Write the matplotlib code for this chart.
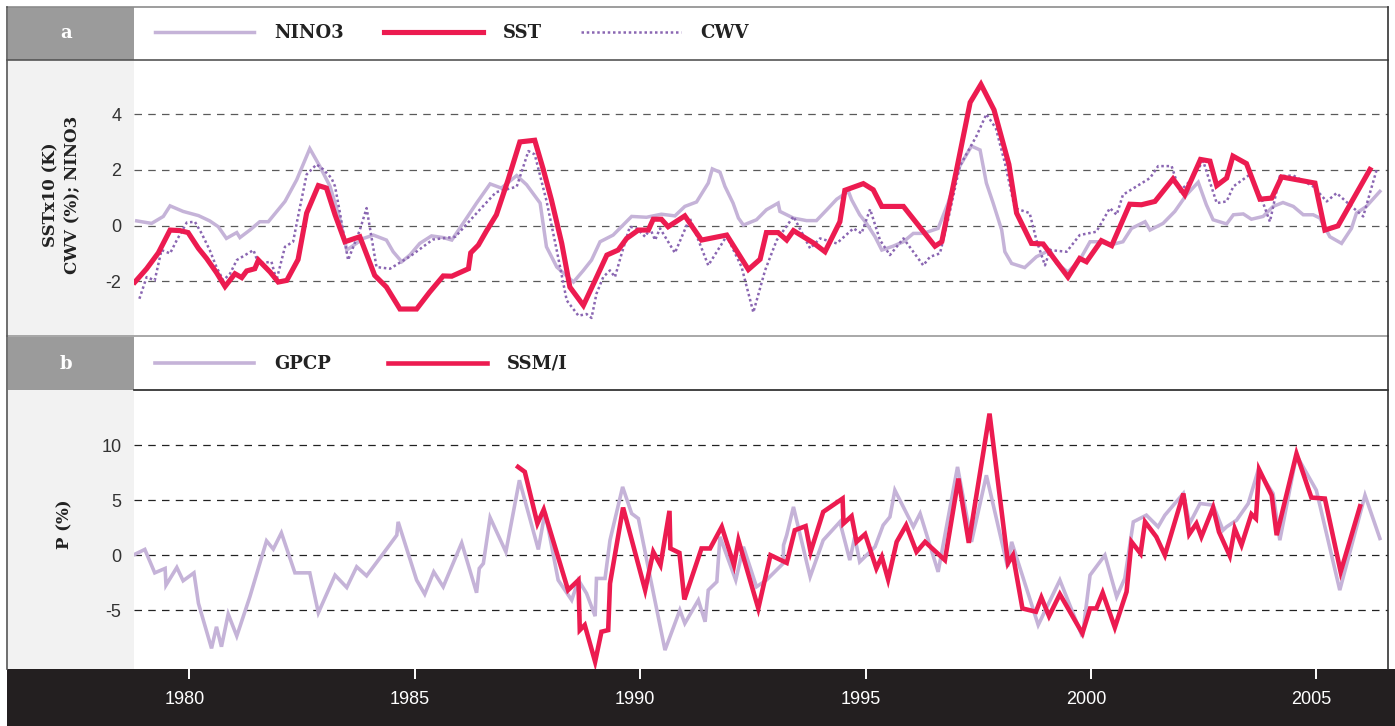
import numpy as np
import matplotlib
matplotlib.use('Agg')
import matplotlib.pyplot as plt
import matplotlib.transforms as mtransforms
from matplotlib.patches import Rectangle
from matplotlib.lines import Line2D

# panel a: NINO3 index, SST anomaly (x10, K) and column water vapour (%)
nino3_t = [1978.83, 1979.16, 1979.42, 1979.57, 1979.86, 1980.20, 1980.45, 1980.64, 1980.82, 1981.05,
           1981.12, 1981.34, 1981.56, 1981.75, 1982.12, 1982.38, 1982.67, 1982.89, 1983.12, 1983.34,
           1983.49, 1983.86, 1984.08, 1984.37, 1984.52, 1984.71, 1984.89, 1985.11, 1985.37, 1985.63,
           1985.82, 1986.07, 1986.37, 1986.67, 1986.92, 1987.26, 1987.48, 1987.78, 1987.92, 1988.15,
           1988.52, 1988.74, 1988.92, 1989.11, 1989.40, 1989.62, 1989.81, 1990.14, 1990.47, 1990.77,
           1990.99, 1991.25, 1991.51, 1991.60, 1991.77, 1991.88, 1992.06, 1992.18, 1992.29, 1992.58,
           1992.80, 1993.06, 1993.10, 1993.40, 1993.69, 1993.91, 1994.14, 1994.36, 1994.62, 1994.69,
           1994.87, 1995.02, 1995.21, 1995.36, 1995.61, 1995.84, 1996.06, 1996.28, 1996.61, 1996.83,
           1997.09, 1997.35, 1997.54, 1997.68, 1997.83, 1998.02, 1998.09, 1998.24, 1998.53, 1998.79,
           1999.09, 1999.24, 1999.49, 1999.75, 1999.98, 2000.20, 2000.42, 2000.71, 2000.90, 2001.20,
           2001.31, 2001.60, 2001.86, 2002.12, 2002.38, 2002.56, 2002.71, 2003.01, 2003.16, 2003.38,
           2003.56, 2003.82, 2004.04, 2004.26, 2004.49, 2004.71, 2004.93, 2005.08, 2005.30, 2005.56,
           2005.78, 2005.89, 2006.11, 2006.41]
nino3 = [0.17, 0.08, 0.33, 0.71, 0.51, 0.36, 0.17, -0.04, -0.46, -0.25,
         -0.43, -0.16, 0.14, 0.14, 0.87, 1.65, 2.77, 2.14, 1.41, 0.21,
         -0.88, -0.46, -0.34, -0.52, -0.94, -1.30, -1.06, -0.64, -0.37, -0.43,
         -0.52, 0.08, 0.81, 1.50, 1.35, 1.80, 1.47, 0.81, -0.76, -1.49,
         -2.03, -1.61, -1.24, -0.58, -0.34, 0.02, 0.33, 0.30, 0.41, 0.35,
         0.69, 0.85, 1.53, 2.04, 1.92, 1.41, 0.81, 0.27, 0.02, 0.21,
         0.57, 0.81, 0.51, 0.27, 0.18, 0.18, 0.57, 0.95, 1.23, 0.93,
         0.39, 0.08, -0.40, -0.88, -0.74, -0.58, -0.28, -0.28, -0.10, 0.81,
         2.14, 2.86, 2.72, 1.53, 0.81, -0.16, -0.94, -1.36, -1.51, -1.12,
         -0.88, -1.36, -1.67, -1.24, -0.58, -0.58, -0.70, -0.58, -0.10, 0.14,
         -0.16, 0.08, 0.51, 1.11, 1.56, 0.75, 0.21, 0.06, 0.39, 0.42,
         0.23, 0.33, 0.69, 0.83, 0.69, 0.39, 0.39, 0.27, -0.40, -0.64,
         -0.10, 0.45, 0.69, 1.23]

sst_t = [1978.79, 1979.05, 1979.31, 1979.57, 1979.79, 1979.97, 1980.20, 1980.38, 1980.60, 1980.79,
         1981.01, 1981.16, 1981.27, 1981.45, 1981.53, 1981.79, 1981.97, 1982.16, 1982.41, 1982.60,
         1982.86, 1983.04, 1983.23, 1983.45, 1983.78, 1984.11, 1984.37, 1984.67, 1985.04, 1985.33,
         1985.63, 1985.82, 1986.19, 1986.24, 1986.41, 1986.59, 1986.81, 1987.07, 1987.33, 1987.66,
         1987.85, 1988.03, 1988.26, 1988.44, 1988.74, 1989.00, 1989.26, 1989.51, 1989.70, 1989.96,
         1990.18, 1990.29, 1990.47, 1990.62, 1990.99, 1991.36, 1991.92, 1992.40, 1992.66, 1992.80,
         1993.06, 1993.25, 1993.40, 1993.84, 1994.10, 1994.43, 1994.54, 1994.95, 1995.17, 1995.36,
         1995.84, 1996.54, 1996.69, 1997.02, 1997.32, 1997.56, 1997.85, 1998.18, 1998.35, 1998.68,
         1998.94, 1999.49, 1999.75, 1999.90, 2000.23, 2000.46, 2000.86, 2001.12, 2001.42, 2001.82,
         2002.08, 2002.43, 2002.64, 2002.79, 2003.01, 2003.15, 2003.45, 2003.75, 2004.01, 2004.23,
         2004.97, 2005.19, 2005.48, 2006.19]
sst = [-2.03, -1.55, -0.98, -0.16, -0.18, -0.25, -0.82, -1.18, -1.69, -2.19,
       -1.73, -1.87, -1.63, -1.55, -1.24, -1.67, -2.03, -1.97, -1.22, 0.45,
       1.44, 1.35, 0.39, -0.58, -0.40, -1.79, -2.21, -3.00, -3.00, -2.39,
       -1.81, -1.82, -1.55, -0.98, -0.70, -0.19, 0.39, 1.65, 3.01, 3.07,
       2.02, 0.93, -0.64, -2.21, -2.87, -1.97, -1.06, -0.88, -0.46, -0.16,
       -0.16, 0.23, 0.23, -0.04, 0.35, -0.52, -0.34, -1.58, -1.21, -0.25,
       -0.25, -0.52, -0.18, -0.62, -0.94, 0.14, 1.27, 1.51, 1.29, 0.69,
       0.69, -0.74, -0.58, 2.02, 4.43, 5.08, 4.16, 2.20, 0.45, -0.64,
       -0.66, -1.85, -1.18, -1.30, -0.54, -0.72, 0.77, 0.75, 0.87, 1.68,
       1.11, 2.38, 2.32, 1.44, 1.71, 2.50, 2.23, 0.95, 0.99, 1.75,
       1.53, -0.16, -0.01, 2.02]

cwv_t = [1978.89, 1979.05, 1979.23, 1979.38, 1979.57, 1979.72, 1979.94, 1980.12, 1980.27, 1980.45,
         1980.60, 1980.75, 1980.90, 1981.05, 1981.42, 1981.53, 1981.82, 1981.93, 1982.12, 1982.30,
         1982.41, 1982.60, 1982.82, 1982.97, 1983.15, 1983.23, 1983.34, 1983.52, 1983.78, 1983.93,
         1984.15, 1984.45, 1984.90, 1985.40, 1985.90, 1986.40, 1986.80, 1987.26, 1987.52, 1987.66,
         1987.92, 1988.15, 1988.37, 1988.63, 1988.81, 1988.92, 1989.03, 1989.18, 1989.33, 1989.44,
         1989.59, 1989.77, 1989.92, 1990.11, 1990.22, 1990.33, 1990.44, 1990.77, 1991.10, 1991.51,
         1991.92, 1992.25, 1992.51, 1992.77, 1993.03, 1993.40, 1993.77, 1993.99, 1994.36, 1994.73,
         1994.91, 1995.10, 1995.32, 1995.54, 1995.84, 1996.28, 1996.43, 1996.65, 1996.83, 1997.09,
         1997.46, 1997.68, 1997.89, 1998.09, 1998.31, 1998.64, 1998.79, 1998.98, 1999.09, 1999.46,
         1999.75, 2000.12, 2000.42, 2000.57, 2000.71, 2001.31, 2001.49, 2001.79, 2001.97, 2002.19,
         2002.49, 2002.79, 2003.01, 2003.16, 2003.53, 2003.78, 2003.97, 2004.19, 2004.49, 2004.93,
         2005.23, 2005.45, 2005.74, 2006.04, 2006.34]
cwv = [-2.63, -1.85, -1.97, -0.88, -1.00, -0.52, 0.11, 0.14, -0.28, -0.88,
       -1.49, -1.97, -1.73, -1.24, -0.88, -1.36, -1.30, -1.97, -0.76, -0.58,
       0.33, 1.84, 2.20, 2.02, 1.71, 1.41, 0.45, -1.24, -0.16, 0.63,
       -1.49, -1.55, -1.10, -0.50, -0.40, 0.50, 1.20, 1.40, 2.68, 2.56,
       0.90, -0.90, -2.69, -3.24, -3.18, -3.32, -2.45, -1.85, -1.61, -1.85,
       -1.00, -0.04, -0.10, -0.40, -0.10, -0.52, -0.10, -0.98, 0.27, -1.43,
       -0.37, -1.49, -3.12, -1.61, -0.52, 0.33, -0.82, -0.46, -0.64, -0.10,
       -0.28, 0.59, -0.52, -1.06, -0.46, -1.43, -1.12, -1.00, 0.21, 2.14,
       3.22, 4.01, 3.50, 2.26, 0.63, 0.45, -0.52, -1.43, -0.88, -0.94,
       -0.34, -0.22, 0.63, 0.39, 1.11, 1.71, 2.14, 2.14, 1.23, 1.59,
       2.32, 0.81, 0.87, 1.41, 1.84, 0.99, 0.14, 1.78, 1.80, 1.41,
       0.87, 1.17, 0.75, 0.33, 2.02]

# panel b: precipitation anomaly (%)
gpcp_t = [1978.75, 1979.01, 1979.23, 1979.46, 1979.48, 1979.72, 1979.86, 1980.10, 1980.20, 1980.49,
          1980.60, 1980.71, 1980.86, 1981.05, 1981.34, 1981.71, 1981.86, 1982.04, 1982.34, 1982.67,
          1982.86, 1983.23, 1983.49, 1983.71, 1983.93, 1984.30, 1984.60, 1984.63, 1985.04, 1985.22,
          1985.42, 1985.63, 1986.04, 1986.37, 1986.43, 1986.52, 1986.67, 1987.02, 1987.32, 1987.74,
          1987.89, 1988.18, 1988.48, 1988.63, 1988.81, 1989.00, 1989.03, 1989.22, 1989.33, 1989.61,
          1989.81, 1989.96, 1990.22, 1990.55, 1990.88, 1990.99, 1991.29, 1991.44, 1991.51, 1991.70,
          1991.77, 1992.12, 1992.29, 1992.58, 1992.80, 1993.17, 1993.18, 1993.25, 1993.40, 1993.77,
          1994.06, 1994.43, 1994.65, 1994.76, 1994.87, 1995.21, 1995.39, 1995.54, 1995.65, 1996.06,
          1996.21, 1996.61, 1997.04, 1997.35, 1997.68, 1998.15, 1998.24, 1998.83, 1999.31, 1999.81,
          1999.98, 2000.31, 2000.57, 2000.75, 2000.94, 2001.23, 2001.49, 2001.64, 2002.05, 2002.19,
          2002.42, 2002.71, 2002.93, 2003.01, 2003.23, 2003.49, 2003.71, 2004.04, 2004.19, 2004.56,
          2005.00, 2005.52, 2006.08, 2006.41]
gpcp = [0.00, 0.52, -1.61, -1.21, -2.73, -1.12, -2.33, -1.61, -4.39, -8.48,
        -6.52, -8.33, -5.36, -7.36, -3.79, 1.30, 0.55, 2.03, -1.61, -1.61,
        -5.24, -1.82, -2.94, -1.06, -1.88, 0.15, 1.82, 3.03, -2.27, -3.55,
        -1.52, -2.88, 1.12, -3.42, -1.21, -0.76, 3.42, 0.30, 6.82, 0.52,
        3.94, -2.27, -4.09, -2.27, -3.48, -5.55, -2.12, -2.12, 1.36, 6.21,
        3.79, 3.33, -1.97, -8.64, -5.00, -6.21, -4.09, -6.06, -3.18, -2.42,
        1.67, -2.27, 0.76, -2.88, -2.27, -0.76, 0.91, 1.82, 4.39, -1.97,
        1.36, 3.03, -0.45, 1.67, -0.61, 0.76, 2.73, 3.48, 5.91, 2.58,
        3.79, -1.52, 8.03, 1.21, 7.27, -1.06, 1.21, -6.36, -2.27, -7.42,
        -1.82, 0.00, -3.79, -2.12, 3.03, 3.64, 2.58, 3.64, 5.61, 2.88,
        4.70, 4.55, 2.27, 2.58, 3.18, 4.70, 7.73, 5.61, 1.36, 9.09,
        5.91, -3.18, 5.45, 1.52]

ssmi_t = [1987.29, 1987.44, 1987.72, 1987.86, 1988.40, 1988.63, 1988.66, 1988.77, 1989.00, 1989.14,
          1989.29, 1989.33, 1989.62, 1990.11, 1990.29, 1990.45, 1990.65, 1990.67, 1990.87, 1990.98,
          1991.36, 1991.55, 1991.81, 1992.08, 1992.18, 1992.62, 1992.89, 1993.25, 1993.43, 1993.67,
          1993.78, 1994.06, 1994.49, 1994.51, 1994.69, 1994.80, 1994.99, 1995.24, 1995.36, 1995.50,
          1995.69, 1995.90, 1996.13, 1996.32, 1996.76, 1997.06, 1997.29, 1997.75, 1998.16, 1998.27,
          1998.48, 1998.78, 1998.90, 1999.07, 1999.31, 1999.81, 1999.98, 2000.12, 2000.26, 2000.53,
          2000.79, 2000.90, 2001.10, 2001.20, 2001.45, 2001.64, 2002.05, 2002.18, 2002.34, 2002.45,
          2002.71, 2002.84, 2003.08, 2003.19, 2003.34, 2003.56, 2003.66, 2003.73, 2004.01, 2004.12,
          2004.56, 2004.89, 2005.19, 2005.54, 2005.97]
ssmi = [8.03, 7.58, 2.88, 4.15, -3.18, -2.27, -6.82, -6.36, -9.70, -6.97,
        -6.82, -2.58, 4.33, -3.18, 0.30, -0.91, 4.03, 0.61, 0.21, -4.03,
        0.61, 0.61, 2.58, -0.91, 1.36, -4.85, 0.00, -0.70, 2.27, 2.64,
        0.30, 3.94, 5.15, 2.88, 3.55, 1.21, 1.91, -1.21, -0.15, -2.21,
        1.21, 2.73, 0.30, 1.21, -0.45, 6.97, 1.12, 12.88, -0.73, 0.00,
        -4.85, -5.15, -3.85, -5.55, -3.55, -7.12, -4.85, -4.85, -3.42, -6.58,
        -3.33, 1.21, 0.15, 3.03, 1.67, 0.00, 5.61, 1.91, 2.88, 1.67,
        4.33, 2.12, -0.06, 2.42, 0.91, 3.73, 3.33, 7.79, 5.45, 1.82,
        9.24, 5.24, 5.15, -1.52, 4.45]

year_ticks = [1980, 1985, 1990, 1995, 2000, 2005]
ticks_a = [-2, 0, 2, 4]
ticks_b = [-5, 0, 5, 10]

W, H = 1395, 726
RED = '#ec1b50'
LILAC = '#c5b3d8'
PURPLE = '#8a66b2'
SERIF = 'DejaVu Serif'
SANS = ['Liberation Sans', 'DejaVu Sans']
NARROW = ['Liberation Sans Narrow', 'Liberation Sans', 'DejaVu Sans']

fig = plt.figure(figsize=(W / 100, H / 100), dpi=100)


def box(x0, y0, x1, y1):
    # pixel box measured from the top-left corner -> figure fraction [l, b, w, h]
    return [x0 / W, 1 - y1 / H, (x1 - x0) / W, (y1 - y0) / H]


def rect(x0, y0, x1, y1, color, z=-2):
    l, b, w, h = box(x0, y0, x1, y1)
    fig.add_artist(Rectangle((l, b), w, h, transform=fig.transFigure,
                             facecolor=color, edgecolor='none', zorder=z))


def seg(x0, y0, x1, y1, color, lw=1.0, z=3):
    fig.add_artist(Line2D([x0 / W, x1 / W], [1 - y0 / H, 1 - y1 / H],
                          transform=fig.transFigure, color=color, lw=lw, zorder=z))


# frame pieces
rect(8, 7, 134, 669, '#f2f2f2')
rect(8, 7, 134, 60, '#9b9b9b')
rect(8, 337, 134, 390, '#9b9b9b')
rect(7, 669, 1395, 726, '#231f20')

seg(7, 7, 1388, 7, '#8c8c8c', 1.2)
seg(7, 60, 1388, 60, '#555555', 1.2)
seg(7, 336, 1388, 336, '#9a9a9a', 1.2)
seg(134, 390, 1388, 390, '#222222', 1.2)
seg(7, 7, 7, 669, '#555555', 1.2)
seg(1388, 7, 1388, 669, '#333333', 1.2)

ax_a = fig.add_axes(box(134, 61, 1388, 336))
ax_b = fig.add_axes(box(134, 390, 1388, 669))

xlim = (1978.77, 2006.59)

l_nino, = ax_a.plot(nino3_t, nino3, color=LILAC, lw=2.5, solid_joinstyle='miter', label='NINO3', zorder=2)
l_sst, = ax_a.plot(sst_t, sst, color=RED, lw=3.7, solid_joinstyle='miter', label='SST', zorder=4)
l_cwv, = ax_a.plot(cwv_t, cwv, color=PURPLE, lw=1.8, linestyle=(0, (1, 1.1)), label='CWV', zorder=3)

l_gpcp, = ax_b.plot(gpcp_t, gpcp, color=LILAC, lw=2.6, solid_joinstyle='miter', label='GPCP', zorder=2)
l_ssmi, = ax_b.plot(ssmi_t, ssmi, color=RED, lw=3.3, solid_joinstyle='miter', label='SSM/I', zorder=3)

for ax, yl, yt, gcol in [(ax_a, (-3.97, 5.92), ticks_a, '#5a5a5a'),
                         (ax_b, (-10.36, 15.03), ticks_b, '#222222')]:
    ax.set_xlim(*xlim)
    ax.set_ylim(*yl)
    ax.set_yticks(yt)
    ax.set_yticklabels([str(v) for v in yt], family=SANS, fontsize=13, color='#333333')
    ax.tick_params(axis='y', length=0, pad=9)
    ax.yaxis.grid(True, color=gcol, lw=0.9, linestyle=(0, (6, 5)))
    ax.set_axisbelow(True)
    for s in ax.spines.values():
        s.set_visible(False)

ax_a.set_xticks([])

ax_b.set_xticks(year_ticks)
ax_b.set_xticklabels([str(y) for y in year_ticks], family=NARROW, fontsize=13, color='white')
ax_b.tick_params(axis='x', direction='out', length=7.5, width=1.4, color='white', pad=8)
# year labels sit a little left of their ticks
shift = mtransforms.ScaledTranslation(-5 / 100, 0, fig.dpi_scale_trans)
for lbl in ax_b.get_xticklabels():
    lbl.set_transform(lbl.get_transform() + shift)

# axis titles and panel letters
fig.text(62 / W, 1 - 195 / H, 'SSTx10 (K)\nCWV (%); NINO3', rotation=90, ha='center', va='center',
         multialignment='center', family=SERIF, fontweight='bold', fontsize=12, color='#222222',
         linespacing=1.35)
fig.text(65 / W, 1 - 524 / H, 'P (%)', rotation=90, ha='center', va='center',
         family=SERIF, fontweight='bold', fontsize=12, color='#222222')
fig.text(66 / W, 1 - 33 / H, 'a', ha='center', va='center', family=SERIF, fontweight='bold',
         fontsize=13, color='white')
fig.text(66 / W, 1 - 364 / H, 'b', ha='center', va='center', family=SERIF, fontweight='bold',
         fontsize=13, color='white')

leg_kw = dict(loc='center left', bbox_transform=fig.transFigure, frameon=False, borderpad=0,
              borderaxespad=0, handlelength=5.5, handletextpad=1.1,
              prop={'family': SERIF, 'weight': 'bold', 'size': 13})
leg_a = ax_a.legend(handles=[l_nino, l_sst, l_cwv], ncol=3, columnspacing=2.2,
                    bbox_to_anchor=(155 / W, 1 - 33 / H), **leg_kw)
leg_b = ax_b.legend(handles=[l_gpcp, l_ssmi], ncol=2, columnspacing=3.15,
                    bbox_to_anchor=(155 / W, 1 - 364 / H), **leg_kw)
for leg in (leg_a, leg_b):
    for t in leg.get_texts():
        t.set_color('#222222')

fig.savefig('out.png', dpi=100)
